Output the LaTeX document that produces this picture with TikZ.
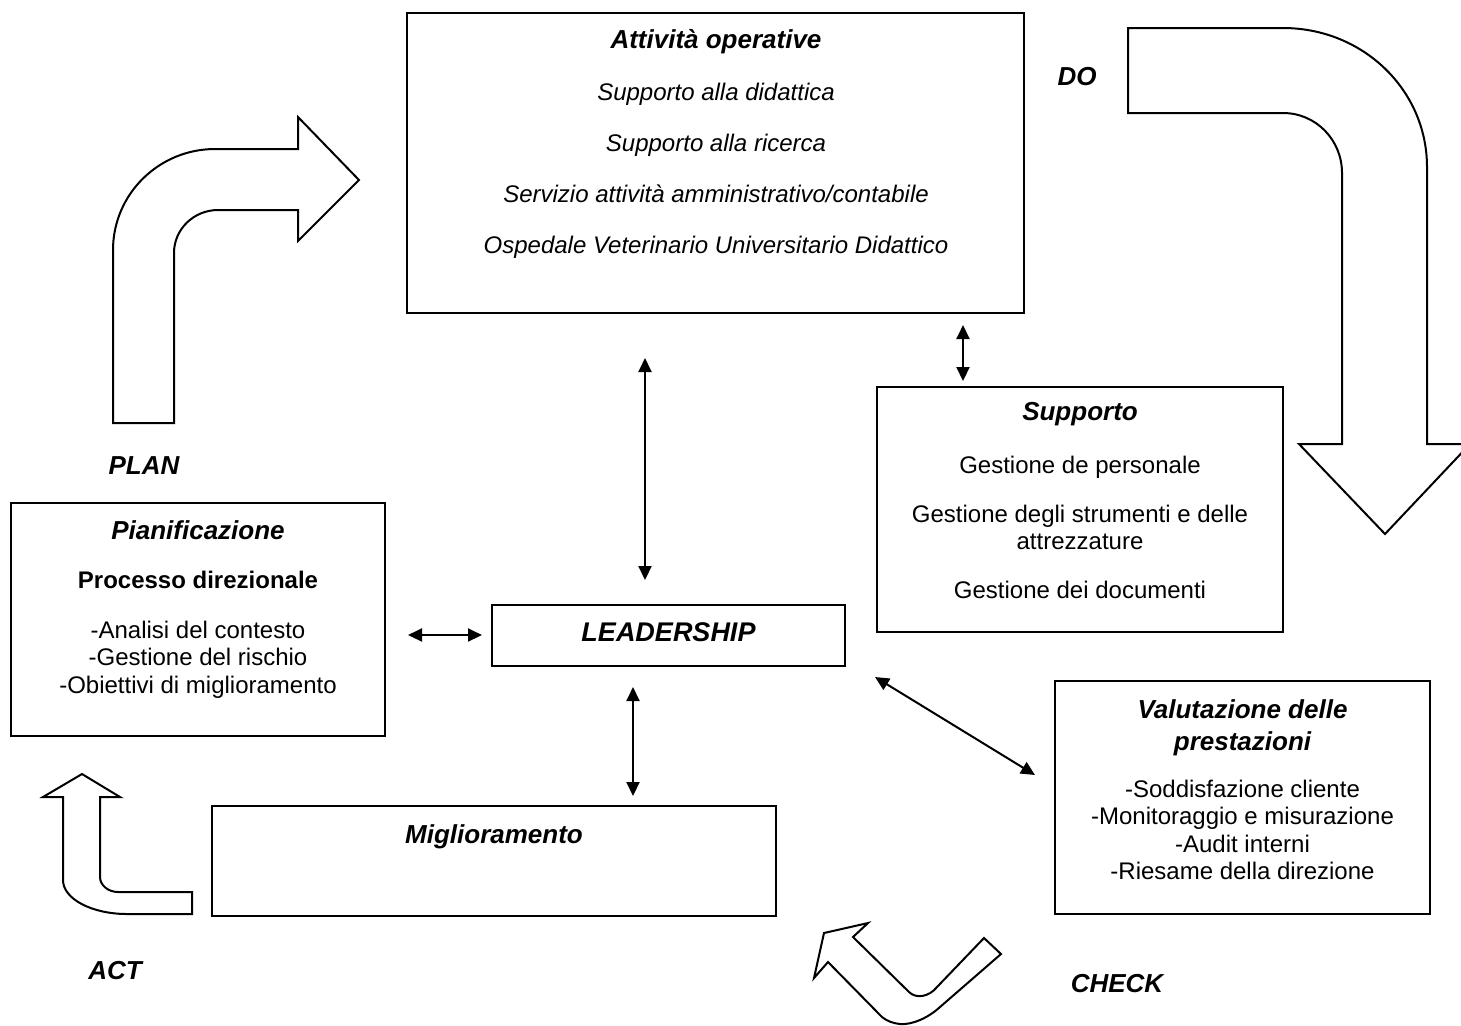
\documentclass[tikz,border=0pt]{standalone}
\usepackage{fontspec}
\setmainfont{Liberation Sans}
\usetikzlibrary{arrows.meta}
\newcommand{\mlines}[1]{\begin{tabular}[t]{@{}c@{}}#1\end{tabular}}
\tikzset{
  box/.style={draw, line width=1pt, rectangle, inner sep=0pt},
  bi/.style={font=\fontsize{13}{16}\selectfont\bfseries\itshape, inner sep=0pt, anchor=base},
  tx/.style={font=\fontsize{12}{13.8}\selectfont, inner sep=0pt, anchor=base},
  itx/.style={font=\fontsize{12}{13.8}\selectfont\itshape, inner sep=0pt, anchor=base},
  btx/.style={font=\fontsize{12}{13.8}\selectfont\bfseries, inner sep=0pt, anchor=base},
  dbl/.style={{Triangle[length=7pt,width=6.5pt]}-{Triangle[length=7pt,width=6.5pt]}, line width=1pt},
  blk/.style={draw, line width=1pt, line join=miter, fill=white}
}
\begin{document}
\begin{tikzpicture}[x=0.5pt, y=-0.5pt]
\clip (0,0) rectangle (1461,1025);
\fill[white] (0,0) rectangle (1461,1025);

% block arrows
\draw[blk] (113,423) -- (113,250) .. controls (113,194) and (159,149) .. (215,149) -- (298,149) -- (298,117) -- (359,180) -- (298,241) -- (298,210) -- (218,210) .. controls (194,210) and (174,229) .. (174,253) -- (174,423) -- cycle;
\draw[blk] (1128,28) -- (1283,28) .. controls (1363,28) and (1427,90) .. (1427,167) -- (1427,444) -- (1470,444) -- (1385,534) -- (1299,444) -- (1342,444) -- (1342,173) .. controls (1342,140) and (1316,113) .. (1283,113) -- (1128,113) -- cycle;
\draw[blk] (82,774) -- (120,797) -- (100,797) -- (100,877) .. controls (100,885) and (108,892) .. (118,892) -- (192,892) -- (192,914) -- (127,914) .. controls (92,914) and (63,899) .. (63,880) -- (63,797) -- (43,797) -- cycle;
\draw[blk] (824,933) -- (868,923) -- (853,937) -- (909,992) .. controls (916,999) and (929,997) .. (937,987) -- (984,938) -- (1001,954) -- (940,1007) .. controls (928,1018) and (912,1025) .. (900,1024) .. controls (892,1023) and (887,1021) .. (882,1017) -- (828,962) -- (814,978) -- cycle;

% labels
\node[bi] (do) at (1077,85) {DO};
\node[bi] (plan) at (144,474) {PLAN};
\node[bi] (act) at (115,979) {ACT};
\node[bi] (check) at (1117,992) {CHECK};

% Attivita operative
\node[box, minimum width=308.5pt, minimum height=150pt] (att) at (715.5,163) {};
\node[bi] (attT) at (716,48) {Attività operative};
\node[itx] (att1) at (716,100) {Supporto alla didattica};
\node[itx] (att2) at (716,151.5) {Supporto alla ricerca};
\node[itx] (att3) at (716,202.5) {Servizio attività amministrativo/contabile};
\node[itx] (att4) at (716,253.5) {Ospedale Veterinario Universitario Didattico};

% Supporto
\node[box, minimum width=203pt, minimum height=122.5pt] (sup) at (1080,509.5) {};
\node[bi] (supT) at (1080,420) {Supporto};
\node[tx] (sup1) at (1080,473) {Gestione de personale};
\node[tx] (sup2) at (1080,522) {\mlines{Gestione degli strumenti e delle\\attrezzature}};
\node[tx] (sup3) at (1080,598) {Gestione dei documenti};

% Pianificazione
\node[box, minimum width=187pt, minimum height=116.5pt] (pia) at (198,619.5) {};
\node[bi] (piaT) at (198,539) {Pianificazione};
\node[btx] (pia1) at (198,588) {Processo direzionale};
\node[tx] (pia2) at (198,638) {\mlines{-Analisi del contesto\\-Gestione del rischio\\-Obiettivi di miglioramento}};

% Leadership
\node[box, minimum width=176.5pt, minimum height=30.5pt] (lea) at (668.5,635.5) {};
\node[bi, font=\fontsize{13.5}{16}\selectfont\bfseries\itshape] (leaT) at (668.5,641) {LEADERSHIP};

% Valutazione
\node[box, minimum width=187.5pt, minimum height=116.5pt] (val) at (1242.5,797.5) {};
\node[bi] (valT) at (1242.5,718) {\mlines{Valutazione delle\\prestazioni}};
\node[tx] (val1) at (1242.5,797) {\mlines{-Soddisfazione cliente\\-Monitoraggio e misurazione\\-Audit interni\\-Riesame della direzione}};

% Miglioramento
\node[box, minimum width=282pt, minimum height=55pt] (mig) at (494,861) {};
\node[bi] (migT) at (494,843) {Miglioramento};

% connectors
\coordinate (c1a) at (645,358); \coordinate (c1b) at (645,580);
\coordinate (c2a) at (963,325); \coordinate (c2b) at (963,381);
\coordinate (c3a) at (408,635); \coordinate (c3b) at (482,635);
\coordinate (c4a) at (633,687); \coordinate (c4b) at (633,796);
\coordinate (c5a) at (875,677); \coordinate (c5b) at (1035,775);
\draw[dbl] (c1a) -- (c1b);
\draw[dbl] (c2a) -- (c2b);
\draw[dbl] (c3a) -- (c3b);
\draw[dbl] (c4a) -- (c4b);
\draw[dbl] (c5a) -- (c5b);
\end{tikzpicture}
\end{document}
